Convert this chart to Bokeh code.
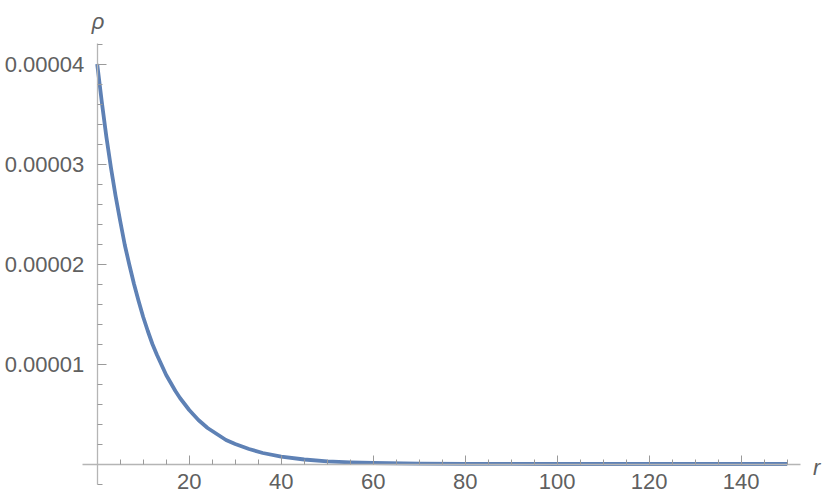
from bokeh.plotting import figure
from bokeh.models import FixedTicker, PrintfTickFormatter, Label, Range1d
from bokeh.embed import file_html
from bokeh.resources import INLINE

# data (r, rho)
r_vals = [0, 1, 2, 3, 4, 5, 6, 7, 8, 9, 10, 11, 12, 13, 14, 15, 16, 17, 18, 19, 20,
          22, 24, 26, 28, 30, 33, 36, 40, 45, 50, 55, 60, 70, 80, 90, 100, 110,
          120, 130, 140, 150]
rho_vals = [4.00e-5, 3.62e-5, 3.27e-5, 2.96e-5, 2.68e-5, 2.43e-5, 2.19e-5, 1.99e-5,
            1.80e-5, 1.63e-5, 1.47e-5, 1.33e-5, 1.20e-5, 1.09e-5, 0.99e-5, 0.89e-5,
            0.81e-5, 0.73e-5, 0.66e-5, 0.60e-5, 0.54e-5,
            0.44e-5, 0.36e-5, 0.30e-5, 0.24e-5, 0.20e-5, 0.15e-5, 0.11e-5, 0.073e-5,
            0.045e-5, 0.027e-5, 0.016e-5, 0.010e-5, 0.004e-5, 0.0013e-5, 0.0005e-5,
            0.0002e-5, 0.0001e-5, 0.0, 0.0, 0.0, 0.0]

x_major = [20, 40, 60, 80, 100, 120, 140]
x_minor = [5, 10, 15, 25, 30, 35, 45, 50, 55, 65, 70, 75, 85, 90, 95,
           105, 110, 115, 125, 130, 135, 145, 150]
y_major = [1e-5, 2e-5, 3e-5, 4e-5]
y_minor = [-2e-6, 2e-6, 4e-6, 6e-6, 8e-6, 1.2e-5, 1.4e-5, 1.6e-5, 1.8e-5,
           2.2e-5, 2.4e-5, 2.6e-5, 2.8e-5, 3.2e-5, 3.4e-5, 3.6e-5, 3.8e-5, 4.2e-5]

x_label = "r"
y_label = "ρ"

W, H = 822, 495
p = figure(width=W, height=H, output_backend="svg", toolbar_location=None,
           x_range=Range1d(-21.02, 157.67), y_range=Range1d(-3.15e-6, 4.635e-5),
           min_border=0, min_border_left=0, min_border_right=0,
           min_border_top=0, min_border_bottom=0)
p.outline_line_color = None
p.grid.visible = False
p.background_fill_color = "white"
p.border_fill_color = "white"

p.line(r_vals, rho_vals, line_color="#5E81B5", line_width=3.8, line_join="round")

axis_color = "#b5b5b5"
tick_color = "#9a9a9a"
label_color = "#606060"
font = "Liberation Sans"

xa = p.xaxis[0]
xa.fixed_location = 0
xa.bounds = (-3.1, 152.8)
xa.ticker = FixedTicker(ticks=x_major, minor_ticks=x_minor)
xa.axis_line_color = axis_color
xa.axis_line_width = 1.3
xa.major_tick_line_color = tick_color
xa.minor_tick_line_color = tick_color
xa.major_tick_in = 9
xa.major_tick_out = 0
xa.minor_tick_in = 5
xa.minor_tick_out = 0
xa.major_label_text_font = font
xa.major_label_text_font_size = "22px"
xa.major_label_text_color = label_color
xa.major_label_standoff = 10

ya = p.yaxis[0]
ya.fixed_location = 0
ya.bounds = (-2.05e-6, 4.205e-5)
ya.ticker = FixedTicker(ticks=y_major, minor_ticks=y_minor)
ya.formatter = PrintfTickFormatter(format="%.5f")
ya.axis_line_color = axis_color
ya.axis_line_width = 1.3
ya.major_tick_line_color = tick_color
ya.minor_tick_line_color = tick_color
ya.major_tick_in = 9
ya.major_tick_out = 0
ya.minor_tick_in = 5
ya.minor_tick_out = 0
ya.major_label_text_font = font
ya.major_label_text_font_size = "22px"
ya.major_label_text_color = label_color
ya.major_label_standoff = 13

p.add_layout(Label(x=156.4, y=-0.35e-6, text=x_label, text_font=font,
                   text_font_style="italic", text_font_size="22px",
                   text_color=label_color, text_align="center",
                   text_baseline="middle"))
p.add_layout(Label(x=0.17, y=4.43e-5, text=y_label, text_font=font,
                   text_font_style="italic", text_font_size="22px",
                   text_color=label_color, text_align="center",
                   text_baseline="middle"))

open("out.html", "w").write(file_html(p, INLINE))
